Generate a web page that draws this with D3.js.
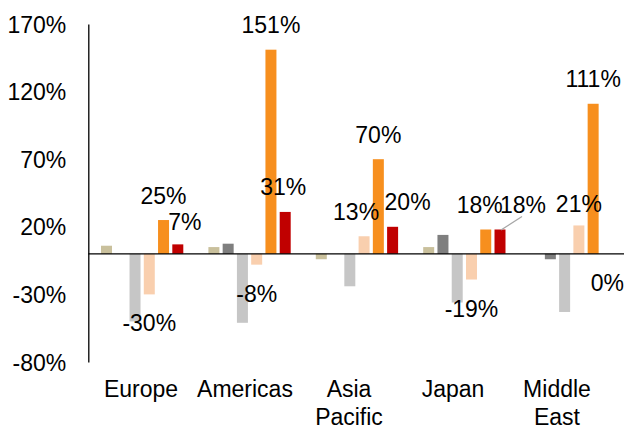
<!DOCTYPE html>
<html>
<head>
<meta charset="utf-8">
<script src="https://cdn.jsdelivr.net/npm/d3@7"></script>
<style>
  html, body { margin: 0; padding: 0; background: #fff; }
  svg { display: block; font-family: "Liberation Sans", Arial, sans-serif; }
</style>
</head>
<body>
<svg id="chart" width="624" height="431"></svg>
<script>
// ---- Data ----
const categories = ["Europe", "Americas", "Asia Pacific", "Japan", "Middle East"];
const seriesNames = ["Series A", "Series B", "Series C", "Series D", "Series E", "Series F"];
const seriesA = [6, 5, -4, 5, 0];        // tan
const seriesB = [0, 7.5, 0, 14, -4];     // dark grey
const seriesC = [-50, -51, -24, -36, -43]; // light grey
const seriesD = [-30, -8, 13, -19, 21];  // peach (labelled)
const seriesE = [25, 151, 70, 18, 111];  // orange (labelled)
const seriesF = [7, 31, 20, 18, 0];      // dark red (labelled)
const yTicks = [-80, -30, 20, 70, 120, 170];
const labelledSeries = ["Series D", "Series E", "Series F"];

// ---- Styling / layout (not data) ----
const colors = {
  "Series A": "#C9C09C",
  "Series B": "#7F7F7F",
  "Series C": "#C6C6C6",
  "Series D": "#F9CFAE",
  "Series E": "#F78F1E",
  "Series F": "#C00000"
};
// manual label nudges [dx, dy] keyed by "category|series"
const labelNudge = {
  "Europe|Series F": [7, 2],
  "Americas|Series F": [-2, 0],
  "Asia Pacific|Series D": [-8, 0],
  "Asia Pacific|Series F": [15, 0],
  "Japan|Series E": [-6, 0],
  "Japan|Series F": [23, 0],
  "Middle East|Series D": [0, 3]
};
const leaderLines = { "Japan|Series F": true };

const seriesValues = [seriesA, seriesB, seriesC, seriesD, seriesE, seriesF];
const rows = [];
categories.forEach((c, i) => {
  seriesNames.forEach((s, j) => rows.push({ cat: c, series: s, value: seriesValues[j][i] }));
});

const svg = d3.select("#chart");
const plotLeft = 88.3, plotRight = 625.3, plotTop = 24, plotBottom = 362;
const font = 23;

const y = d3.scaleLinear().domain([-80, 170]).range([plotBottom, plotTop]);
const x0 = d3.scaleBand().domain(categories).range([plotLeft, plotRight]).padding(0);
const x1 = d3.scaleBand().domain(seriesNames).range([12.7, 95.0]).paddingInner(0.229).paddingOuter(0);
const xLabel = d3.scalePoint().domain(categories).range([141, 557]);

// Bars
svg.append("g").selectAll("rect")
  .data(rows.filter(d => d.value !== 0))
  .join("rect")
  .attr("x", d => x0(d.cat) + x1(d.series))
  .attr("width", x1.bandwidth())
  .attr("y", d => Math.min(y(d.value), y(0)))
  .attr("height", d => Math.abs(y(d.value) - y(0)))
  .attr("fill", d => colors[d.series]);

// Y axis line (no ticks)
const yAxis = d3.axisLeft(y).tickValues(yTicks).tickSize(0).tickFormat(d => String(d) + "%");
const gy = svg.append("g").attr("transform", `translate(${plotLeft},0)`).call(yAxis);
gy.select(".domain").attr("stroke", "#000").attr("stroke-width", 1.3);
gy.selectAll("text")
  .attr("x", -22)
  .attr("dy", "0.35em")
  .attr("font-size", font)
  .attr("font-family", "Liberation Sans, Arial, sans-serif")
  .attr("fill", "#000");

// Zero line
svg.append("line")
  .attr("x1", plotLeft).attr("x2", 624)
  .attr("y1", y(0)).attr("y2", y(0))
  .attr("stroke", "#000").attr("stroke-width", 1.3);

// Category labels
const catG = svg.append("g");
categories.forEach(c => {
  const words = c.split(" ");
  const lines = (words.length > 1) ? words : [c];
  const t = catG.append("text")
    .attr("text-anchor", "middle")
    .attr("font-size", font)
    .attr("fill", "#000");
  lines.forEach((w, k) => {
    t.append("tspan").attr("x", xLabel(c)).attr("y", 396.5 + k * 28).text(w);
  });
});

// Data labels
const labelRows = rows.filter(d => labelledSeries.includes(d.series));
const lg = svg.append("g");
labelRows.forEach(d => {
  const key = d.cat + "|" + d.series;
  const nudge = labelNudge[key] || [0, 0];
  const cx = x0(d.cat) + x1(d.series) + x1.bandwidth() / 2;
  const baseY = d.value > 0 ? y(d.value) - 16.5 : y(d.value) + 37;
  const lx = cx + nudge[0], ly = baseY + nudge[1];
  if (leaderLines[key]) {
    lg.append("line")
      .attr("x1", cx + 1).attr("y1", y(d.value) + 0.5)
      .attr("x2", cx + 22).attr("y2", y(d.value) - 13)
      .attr("stroke", "#A6A6A6").attr("stroke-width", 1.2);
  }
  lg.append("text")
    .attr("x", lx).attr("y", ly)
    .attr("text-anchor", "middle")
    .attr("font-size", font)
    .attr("fill", "#000")
    .text(String(d.value) + "%");
});
</script>
</body>
</html>
